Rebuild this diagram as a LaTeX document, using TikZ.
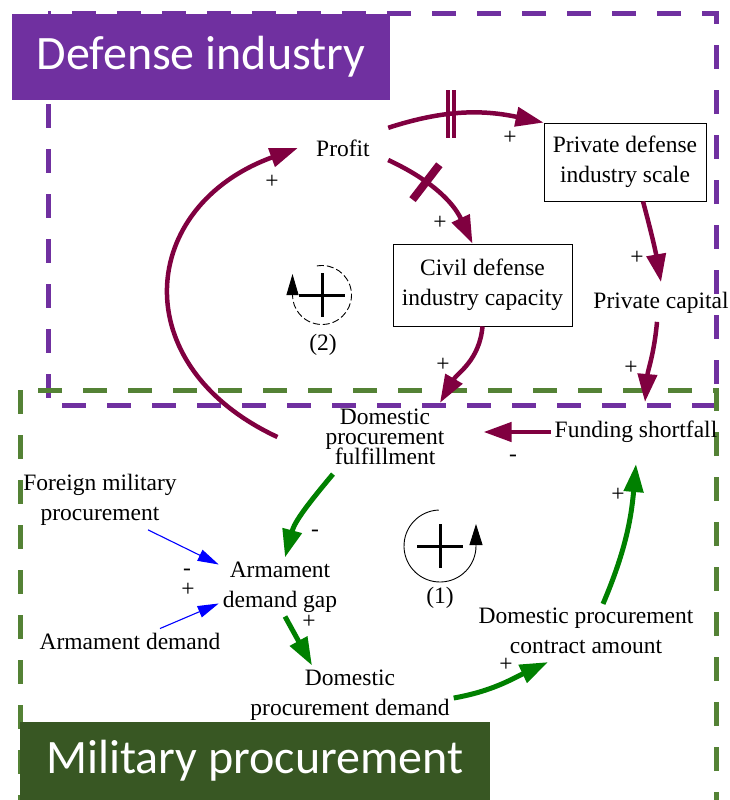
\documentclass[tikz,border=0pt]{standalone}
\usepackage{fontspec}
\setmainfont{Liberation Serif}
\newfontfamily\titlefont{Carlito}
\usepackage{tikz}
\usetikzlibrary{arrows.meta}
\definecolor{dimaroon}{RGB}{128,0,64}
\definecolor{digreen}{RGB}{0,128,0}
\definecolor{dipurple}{RGB}{112,48,160}
\definecolor{mpgreen}{RGB}{84,130,53}
\definecolor{mpdark}{RGB}{56,87,35}

\begin{document}
\begin{tikzpicture}[x=1pt, y=-1pt,
  varname/.style={align=center, inner sep=4pt, font=\fontsize{23.5}{30}\selectfont},
  boxed/.style={varname, draw, line width=0.8pt},
  sign/.style={inner sep=0pt, font=\fontsize{23.5}{28}\selectfont},
  maroonlink/.style={draw=dimaroon, line width=4.5pt, -{Triangle[length=28pt,width=19pt]}},
  greenlink/.style={draw=digreen, line width=5pt, -{Triangle[length=28pt,width=19pt]}},
  bluelink/.style={draw=blue, line width=1.1pt, -{Triangle[length=21pt,width=12pt]}},
  cutbar/.style={fill=dimaroon, minimum width=8pt, minimum height=44pt, inner sep=0pt},
  title/.style={text=white, inner sep=0pt, font=\titlefont\fontsize{48}{54}\selectfont},
  region/.style={line width=5pt, dash pattern=on 24pt off 21pt}]
\useasboundingbox (0,0) rectangle (729,800);

\draw[region, draw=dipurple] (48,14) rectangle (716,405);
\draw[region, draw=mpgreen] (20,390) rectangle (716,840);
\node[title, fill=dipurple, minimum width=378pt, minimum height=86pt] (dind) at (201,57) {Defense industry};
\node[title, fill=mpdark, minimum width=470pt, minimum height=78pt] (mproc) at (255,761) {Military procurement};

\node[varname, minimum width=90pt, minimum height=40pt] (profit) at (343,148) {Profit};
\node[boxed, minimum width=162pt, minimum height=78pt] (pdis) at (625,162) {Private defense\\industry scale};
\node[boxed, minimum width=179pt, minimum height=82pt] (cdic) at (482.5,285) {Civil defense\\industry capacity};
\node[varname] (pcap) at (661,303) {Private capital};
\node[varname] (dpf) at (385,437) {Domestic\\[-10pt]procurement\\[-10pt]fulfillment};
\node[varname] (fund) at (636,432) {Funding shortfall};
\node[varname] (fmp) at (100,500) {Foreign military\\procurement};
\node[varname] (adg) at (280,587) {Armament\\demand gap};
\node[varname] (ad) at (130,641) {Armament demand};
\node[varname] (dpd) at (350,695) {Domestic\\procurement demand};
\node[varname] (dpca) at (586,631) {Domestic procurement\\contract amount};

\draw[maroonlink] (profit.north east) to[out=18, in=168] coordinate[pos=0.4] (dly) (pdis.north west);
\draw[draw=dimaroon, line width=3.5pt] ([xshift=-3pt]dly) ++(0,-24) -- ++(0,48);
\draw[draw=dimaroon, line width=3.5pt] ([xshift=3pt]dly) ++(0,-24) -- ++(0,48);
\draw[maroonlink] ([yshift=-12pt]profit.east) to[out=-25, in=115] node[pos=0.35, sloped, cutbar]{} ([xshift=-10pt]cdic.north);
\draw[maroonlink] ([xshift=18pt]pdis.south) to[out=-75, in=100] ([yshift=6pt]pcap.north);
\draw[maroonlink] ([xshift=-4pt,yshift=-4pt]pcap.south) to[out=-95, in=85] ([shift={(9,-15)}]fund.north);
\draw[maroonlink] (cdic.south) to[out=-95, in=60] ([xshift=55pt,yshift=2pt]dpf.north);
\draw[maroonlink, shorten >=35pt] (fund.west) -- (fund.west -| dpf.east);
\draw[maroonlink] ([xshift=-44pt]dpf.west) to[out=155, in=200, looseness=1.5] (profit.west);

\draw[greenlink] ([shift={(-52,5)}]dpf.south) to[out=230, in=75] ([xshift=5pt]adg.north);
\draw[greenlink] ([xshift=5pt]adg.south) -- ([xshift=-38pt]dpd.north);
\draw[greenlink] ([yshift=-3pt]dpd.east) to[out=10, in=205] ([shift={(-38,4)}]dpca.south);
\draw[greenlink] ([xshift=17pt]dpca.north) to[out=67, in=-95] ([yshift=-17pt]fund.south);

\draw[bluelink] ([xshift=48pt]fmp.south) -- ([yshift=-7pt]adg.north west);
\draw[bluelink] ([xshift=30pt]ad.north) -- ([yshift=13pt]adg.south west);

\node[sign] (s1) at (272,182) {+};
\node[sign] (s2) at (510,138) {+};
\node[sign] (s3) at (440,223) {+};
\node[sign] (s4) at (637,258) {+};
\node[sign] (s5) at (631,368) {+};
\node[sign] (s6) at (443,365) {+};
\node[sign] (s7) at (513,458) {-};
\node[sign] (s8) at (315,533) {-};
\node[sign] (s9) at (309,622) {+};
\node[sign] (s10) at (506,665) {+};
\node[sign] (s11) at (618,495) {+};
\node[sign] (s12) at (187,572) {-};
\node[sign] (s13) at (188,590) {+};

\draw[line width=3pt] (299,295) -- (345,295) (322,273) -- (322,317);
\draw[line width=0.9pt, dash pattern=on 7pt off 3pt, -{Triangle[length=21pt,width=12pt]}] (322,295) ++(100:29.5pt) arc[start angle=100, end angle=-180, radius=29.5pt] -- ++(0,-21);
\node[sign] (lp2) at (323,345) {(2)};
\draw[line width=3pt] (417,546) -- (463,546) (440,524) -- (440,568);
\draw[line width=0.9pt, -{Triangle[length=21pt,width=13pt]}] (440,546) ++(92:36pt) arc[start angle=92, end angle=360, radius=36pt] -- ++(0,-22);
\node[sign] (lp1) at (440,598) {(1)};
\end{tikzpicture}
\end{document}
